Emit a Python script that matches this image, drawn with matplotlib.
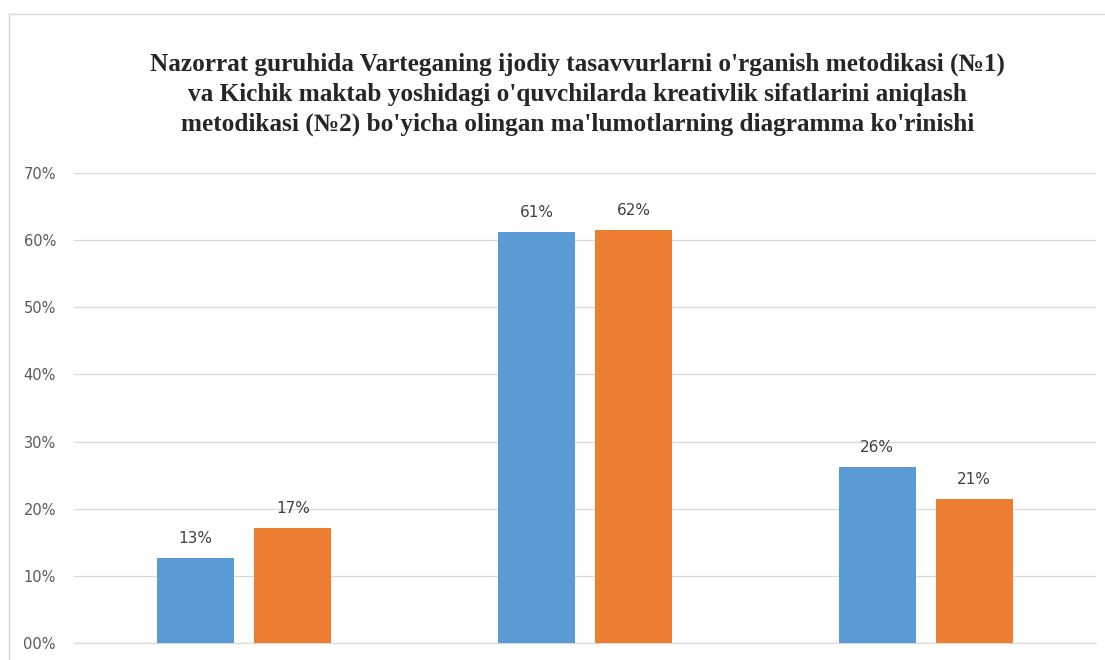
import matplotlib
matplotlib.use("Agg")
from matplotlib import pyplot as plt
from matplotlib.lines import Line2D
from matplotlib.ticker import FuncFormatter
import numpy as np

# data (fractions)
groups = ["1", "2", "3"]
method_1 = [0.126, 0.612, 0.262]
method_2 = [0.171, 0.615, 0.214]
labels_1 = ["13%", "61%", "26%"]
labels_2 = ["17%", "62%", "21%"]
y_ticks = [0.0, 0.1, 0.2, 0.3, 0.4, 0.5, 0.6, 0.7]

title = (
    "Nazorrat guruhida Varteganing ijodiy tasavvurlarni o'rganish metodikasi (№1)\n"
    "va Kichik maktab yoshidagi o'quvchilarda kreativlik sifatlarini aniqlash\n"
    "metodikasi (№2) bo'yicha olingan ma'lumotlarning diagramma ko'rinishi"
)

BLUE = "#5B9BD5"
ORANGE = "#ED7D31"
GRID = "#D9D9D9"
TEXT = "#595959"

W, H = 1105, 660
fig = plt.figure(figsize=(W / 100, H / 100), dpi=100)
ax = fig.add_axes([74 / W, 1 - 643 / H, (1096 - 74) / W, (643 - 173) / H])

x = np.arange(len(groups))
bar_w = 0.226
offset = 0.1425
bars_1 = ax.bar(x - offset, method_1, bar_w, color=BLUE, zorder=3)
bars_2 = ax.bar(x + offset, method_2, bar_w, color=ORANGE, zorder=3)

for bars, labels in [(bars_1, labels_1), (bars_2, labels_2)]:
    for b, lab in zip(bars, labels):
        ax.annotate(
            lab,
            (b.get_x() + b.get_width() / 2, b.get_height()),
            xytext=(0, 14),
            textcoords="offset points",
            ha="center",
            va="center",
            fontsize=11,
            family="DejaVu Sans",
            color="#404040",
        )

ax.set_xlim(-0.5, 2.5)
ax.set_ylim(0, 0.7)
ax.set_yticks(y_ticks)
ax.yaxis.set_major_formatter(FuncFormatter(lambda v, p: f"{round(v * 100):02d}%"))
ax.set_xticks([])
ax.tick_params(axis="y", length=0, pad=13, labelsize=10.5, labelcolor=TEXT)
ax.grid(axis="y", color=GRID, linewidth=0.9, zorder=0)
ax.axhline(0, color=GRID, linewidth=0.9, zorder=0, clip_on=False)
for s in ax.spines.values():
    s.set_visible(False)

fig.text(
    0.523,
    1 - 94 / H,
    title,
    ha="center",
    va="center",
    multialignment="center",
    fontsize=18.2,
    fontweight="bold",
    family="Liberation Serif",
    color="#262626",
    linespacing=1.37,
)

# outer chart border (left and top edges visible in the crop)
fig.add_artist(Line2D([9 / W, 9 / W], [0, 1 - 14 / H], color=GRID, linewidth=1))
fig.add_artist(Line2D([9 / W, 1], [1 - 14 / H, 1 - 14 / H], color=GRID, linewidth=1))

fig.savefig("out.png", dpi=100)
